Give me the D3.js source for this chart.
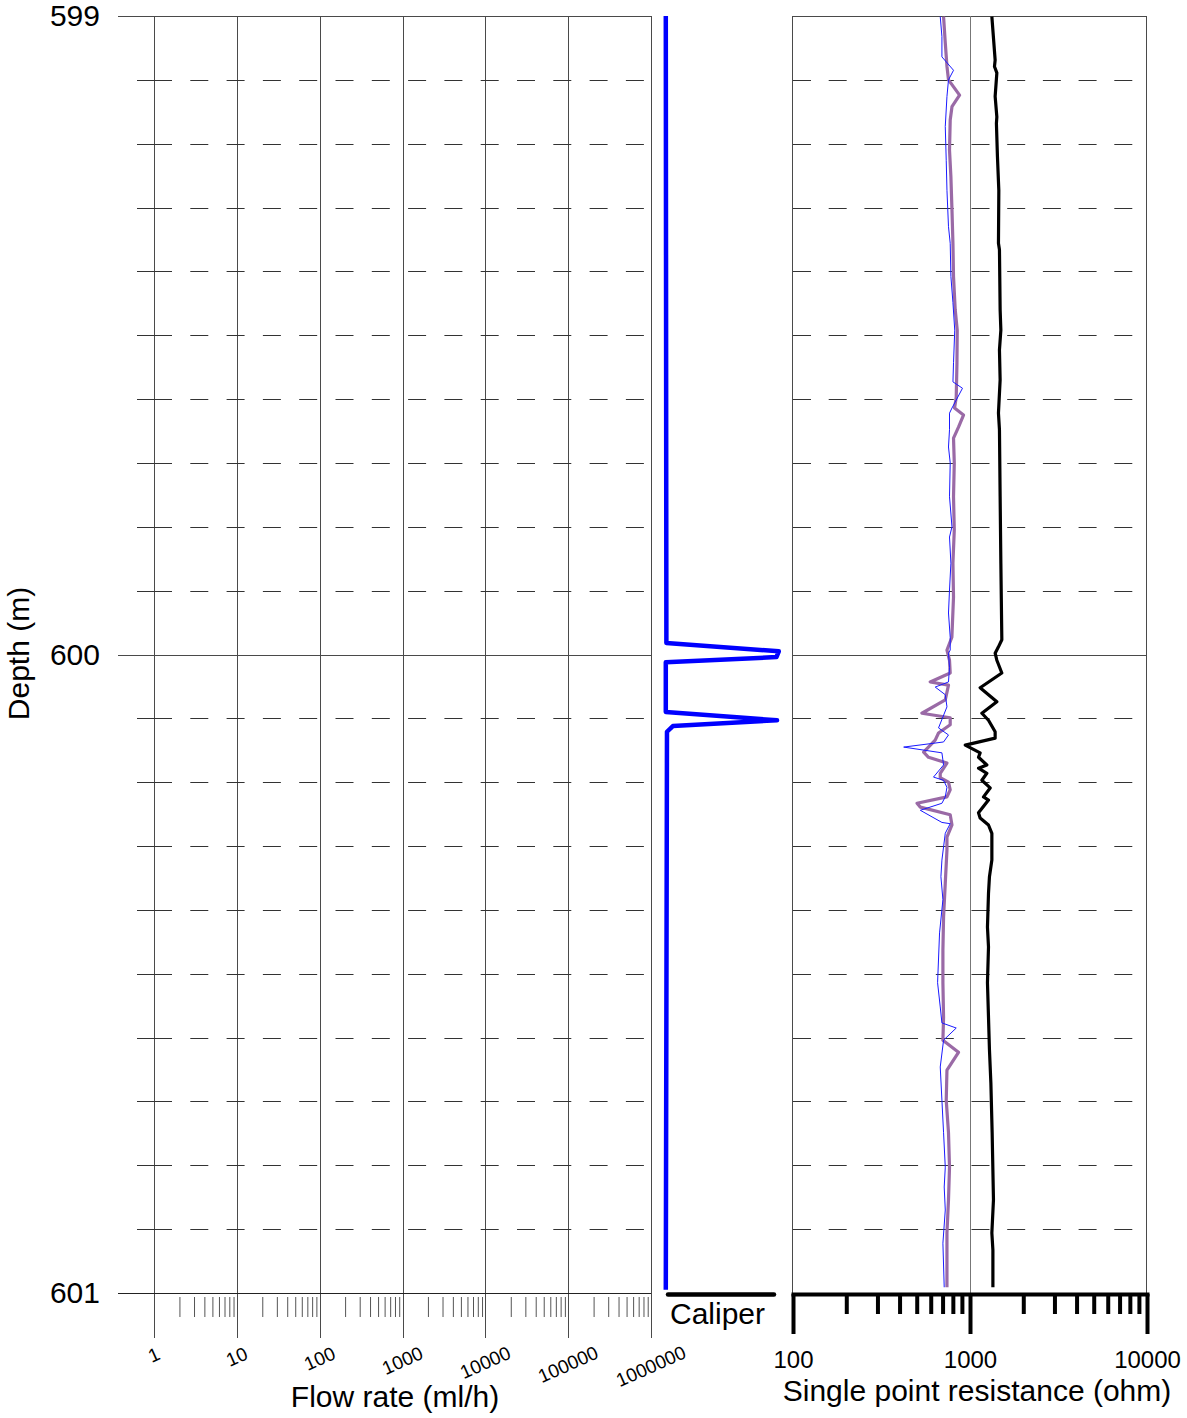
<!DOCTYPE html>
<html>
<head>
<meta charset="utf-8">
<script src="https://cdn.jsdelivr.net/npm/d3@7"></script>
<style>
  html, body { margin: 0; padding: 0; background: #fff; }
  svg { display: block; font-family: "Liberation Sans", Arial, sans-serif; }
</style>
</head>
<body>
<svg id="chart" width="1187" height="1418"></svg>
<script>
// ---------------- data ----------------
const depthTicks = [599, 600, 601];
const depthMinor = [599.1,599.2,599.3,599.4,599.5,599.6,599.7,599.8,599.9,600.1,600.2,600.3,600.4,600.5,600.6,600.7,600.8,600.9];
const flowTicks = [1, 10, 100, 1000, 10000, 100000, 1000000];
const resTicks = [100, 1000, 10000];

// caliper (mm) vs depth (m)
const caliperDepth = [599.000, 599.982, 599.995, 600.004, 600.012, 600.090, 600.103, 600.112, 600.121, 600.995];
const caliperMm    = [75.5,    75.6,    94.6,    94.2,    75.5,    75.5,    94.3,    76.7,    75.7,    75.5];

// single point resistance, thin blue
const resBlueDepth = [599.001,599.032,599.064,599.085,599.100,599.126,599.173,599.226,599.273,599.330,599.356,599.408,599.449,599.492,599.543,599.573,599.583,599.614,599.622,599.648,599.675,599.700,599.753,599.800,599.816,599.857,599.899,599.935,599.973,599.993,599.998,600.020,600.043,600.051,600.063,600.082,600.115,600.126,600.137,600.145,600.154,600.173,600.192,600.197,600.208,600.223,600.233,600.244,600.263,600.265,600.280,600.322,600.348,600.384,600.436,600.514,600.552,600.577,600.585,600.604,600.646,600.698,600.749,600.803,600.834,600.870,600.922,600.991];
const resBlue      = [679,694,694,807,756,741,725,734,741,756,773,780,801,820,807,801,907,791,766,766,756,773,766,791,766,780,766,756,773,773,756,766,756,636,725,741,664,756,709,422,694,709,622,709,741,725,694,524,694,773,725,694,685,703,673,656,679,694,836,709,679,694,709,725,715,725,703,715];

// single point resistance, thick purple
const resPurpleDepth = [599.001,599.042,599.079,599.100,599.124,599.142,599.163,599.210,599.252,599.304,599.356,599.408,599.460,599.492,599.543,599.597,599.614,599.625,599.644,599.661,599.700,599.753,599.805,599.857,599.910,599.973,599.993,600.009,600.029,600.043,600.048,600.071,600.092,600.099,600.110,600.123,600.134,600.153,600.161,600.170,600.186,600.193,600.200,600.212,600.223,600.233,600.239,600.251,600.267,600.286,600.306,600.358,600.411,600.463,600.514,600.568,600.604,600.623,600.651,600.698,600.749,600.803,600.854,600.906,600.991];
const resPurple      = [709,725,741,756,873,791,773,766,780,791,801,807,825,847,844,836,818,919,861,807,815,807,815,801,807,790,741,766,773,596,756,725,535,773,773,664,636,547,583,741,679,679,756,773,741,502,524,773,791,741,741,725,709,703,703,709,703,861,741,734,756,766,756,741,741];

// single point resistance, black
const resBlackDepth = [599.001,599.069,599.079,599.089,599.126,599.158,599.168,599.220,599.273,599.356,599.366,599.460,599.492,599.523,599.570,599.622,599.648,599.753,599.857,599.977,599.988,599.998,600.009,600.029,600.052,600.074,600.092,600.103,600.121,600.131,600.142,600.154,600.161,600.173,600.178,600.186,600.197,600.209,600.223,600.228,600.248,600.256,600.267,600.280,600.322,600.348,600.374,600.427,600.458,600.514,600.568,600.619,600.671,600.749,600.854,600.906,600.933,600.991];
const resBlack      = [1329,1387,1375,1418,1387,1418,1410,1429,1455,1448,1467,1480,1494,1467,1480,1448,1467,1480,1494,1513,1448,1387,1418,1513,1141,1418,1167,1272,1387,1387,940,1141,1117,1245,1117,1245,1167,1300,1192,1272,1117,1141,1272,1329,1329,1288,1272,1255,1272,1255,1272,1288,1312,1334,1357,1329,1347,1347];

// ---------------- scales ----------------
const svg = d3.select("#chart");
const y = d3.scaleLinear().domain([599, 601]).range([16, 1293]);
const xFlow = d3.scaleLog().domain([1, 1e6]).range([154, 651]);
const xCal = d3.scaleLinear().domain([73, 97]).range([651, 793]);
const xRes = d3.scaleLog().domain([100, 10000]).range([793, 1147]);

const gridCol = "#4a4a4a";
const px = v => Math.round(v) + 0.5;

// ---------------- left panel (flow) ----------------
const gL = svg.append("g");
gL.selectAll("line.vg").data(flowTicks).join("line")
  .attr("x1", d => px(xFlow(d))).attr("x2", d => px(xFlow(d)))
  .attr("y1", y(599)).attr("y2", 1338)
  .attr("stroke", gridCol).attr("stroke-width", 1);
gL.selectAll("line.dg").data(depthMinor).join("line")
  .attr("x1", xFlow(1)).attr("x2", 651)
  .attr("y1", d => px(y(d))).attr("y2", d => px(y(d)))
  .attr("stroke", "#333").attr("stroke-dasharray", "18,18.3");
gL.selectAll("line.dt").data(depthMinor).join("line")
  .attr("x1", 137).attr("x2", xFlow(1))
  .attr("y1", d => px(y(d))).attr("y2", d => px(y(d)))
  .attr("stroke", "#333");
gL.selectAll("line.mg").data(depthTicks).join("line")
  .attr("x1", 118).attr("x2", 651)
  .attr("y1", d => px(y(d))).attr("y2", d => px(y(d)))
  .attr("stroke", d => d === 601 ? "#222" : gridCol);

// depth axis labels
const depthAxis = d3.axisLeft(y).tickValues(depthTicks).tickSize(36).tickPadding(18).tickFormat(d3.format("d"));
const gDA = svg.append("g").attr("transform", `translate(${xFlow(1)},0)`).call(depthAxis);
gDA.select(".domain").remove();
gDA.selectAll(".tick line").remove();
gDA.selectAll(".tick text").attr("font-size", 30).attr("fill", "#000")
  .attr("font-family", "Liberation Sans, Arial, sans-serif");

svg.append("text").attr("transform", `translate(29,${y(600) - 1}) rotate(-90)`)
  .attr("text-anchor", "middle").attr("font-size", 30).text("Depth (m)");

// flow minor ticks
const flowMinor = [];
flowTicks.slice(0, -1).forEach(d => { for (let k = 2; k <= 9; k++) flowMinor.push(d * k); });
const minorAxis = d3.axisBottom(xFlow).tickValues(flowMinor).tickSize(20).tickFormat("");
const gMin = svg.append("g").attr("transform", "translate(0,1297)").call(minorAxis);
gMin.select(".domain").remove();
gMin.selectAll(".tick line").attr("stroke", "#555").attr("transform", "translate(0.5,0)");

// flow tick labels (rotated)
svg.append("g").selectAll("text").data(flowTicks).join("text")
  .attr("transform", d => { const s = String(d); return `translate(${xFlow(d)},${1353 + 1.9 * s.length}) rotate(-24)`; })
  .attr("text-anchor", "middle").attr("dominant-baseline", "central")
  .attr("font-size", 19).text(d3.format("d"));

svg.append("text").attr("x", 395).attr("y", 1407).attr("text-anchor", "middle")
  .attr("font-size", 30).text("Flow rate (ml/h)");

// ---------------- caliper panel ----------------
const calLine = d3.line().x(d => xCal(d[1])).y(d => y(d[0])).curve(d3.curveLinear);
svg.append("path").datum(d3.zip(caliperDepth, caliperMm))
  .attr("d", calLine).attr("fill", "none").attr("stroke", "#0000ff")
  .attr("stroke-width", 4.5).attr("stroke-linejoin", "round");
svg.append("line").attr("x1", 668).attr("x2", 774).attr("y1", 1294.5).attr("y2", 1294.5)
  .attr("stroke", "#000").attr("stroke-width", 4.5).attr("stroke-linecap", "round");
svg.append("text").attr("x", 670).attr("y", 1324).attr("font-size", 30).text("Caliper");

// ---------------- right panel (resistance) ----------------
const gR = svg.append("g");
gR.selectAll("line.dg").data(depthMinor).join("line")
  .attr("x1", xRes(100)).attr("x2", xRes(10000))
  .attr("y1", d => px(y(d))).attr("y2", d => px(y(d)))
  .attr("stroke", "#333").attr("stroke-dasharray", "18,17.7");
gR.append("line").attr("x1", xRes(100)).attr("x2", xRes(10000))
  .attr("y1", px(y(600))).attr("y2", px(y(600))).attr("stroke", gridCol);
gR.append("line").attr("x1", xRes(100)).attr("x2", xRes(10000))
  .attr("y1", px(y(599))).attr("y2", px(y(599))).attr("stroke", gridCol);
gR.append("line").attr("x1", px(xRes(1000))).attr("x2", px(xRes(1000)))
  .attr("y1", y(599)).attr("y2", y(601)).attr("stroke", "#777");
[100, 10000].forEach(v => {
  gR.append("line").attr("x1", px(xRes(v)) - 1).attr("x2", px(xRes(v)) - 1)
    .attr("y1", y(599)).attr("y2", y(601)).attr("stroke", gridCol);
});

const resLine = d3.line().x(d => xRes(d[1])).y(d => y(d[0]));
gR.append("path").datum(d3.zip(resPurpleDepth, resPurple))
  .attr("d", resLine).attr("fill", "none").attr("stroke", "#9a6aa6")
  .attr("stroke-width", 3.2).attr("stroke-linejoin", "round");
gR.append("path").datum(d3.zip(resBlueDepth, resBlue))
  .attr("d", resLine).attr("fill", "none").attr("stroke", "#1a1aff")
  .attr("stroke-width", 1);
gR.append("path").datum(d3.zip(resBlackDepth, resBlack))
  .attr("d", resLine).attr("fill", "none").attr("stroke", "#000")
  .attr("stroke-width", 3.2).attr("stroke-linejoin", "round");

// resistance axis
const resMinor = [];
[100, 1000].forEach(d => { for (let k = 2; k <= 9; k++) resMinor.push(d * k); });
const gRMin = svg.append("g").attr("transform", "translate(0,1294)")
  .call(d3.axisBottom(xRes).tickValues(resMinor).tickSize(20).tickFormat(""));
gRMin.select(".domain").remove();
gRMin.selectAll(".tick line").attr("stroke", "#000").attr("stroke-width", 4);

const gRAx = svg.append("g").attr("transform", "translate(0,1294)")
  .call(d3.axisBottom(xRes).tickValues(resTicks).tickSize(40).tickSizeOuter(0).tickPadding(17).tickFormat(d3.format("d")));
gRAx.select(".domain").attr("stroke", "#000").attr("stroke-width", 4).attr("stroke-linecap", "square");
gRAx.selectAll(".tick line").attr("stroke", "#000").attr("stroke-width", 4);
gRAx.selectAll(".tick text").attr("font-size", 24).attr("fill", "#000")
  .attr("font-family", "Liberation Sans, Arial, sans-serif");

svg.append("text").attr("x", 977).attr("y", 1401).attr("text-anchor", "middle")
  .attr("font-size", 30).text("Single point resistance (ohm)");
</script>
</body>
</html>
